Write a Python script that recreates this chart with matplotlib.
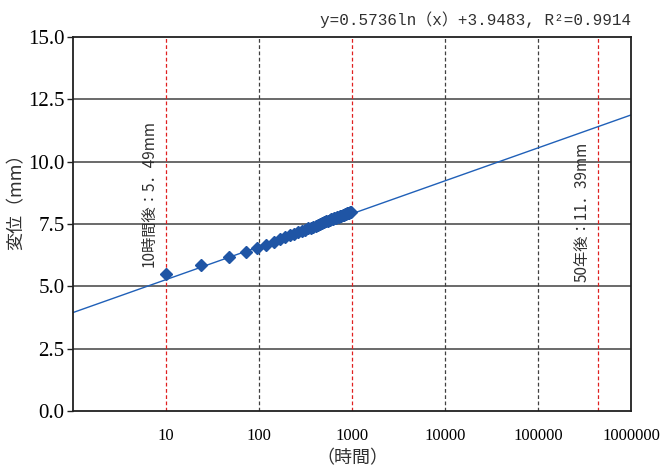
import matplotlib
matplotlib.use("Agg")
import matplotlib.pyplot as plt
import numpy as np

# Data
hours = [10, 24, 48, 72, 96, 120, 144, 168, 192, 216, 240, 264, 288, 312, 336,
         360, 384, 408, 432, 456, 480, 504, 528, 552, 576, 600, 624, 648, 672,
         696, 720, 744, 768, 792, 816, 840, 864, 888, 912, 936, 960, 984]
disp = [5.50, 5.86, 6.18, 6.37, 6.54, 6.67, 6.77, 6.88, 6.96, 7.04, 7.10, 7.16,
        7.22, 7.27, 7.32, 7.36, 7.40, 7.44, 7.48, 7.51, 7.55, 7.58, 7.61, 7.64,
        7.66, 7.69, 7.71, 7.74, 7.76, 7.78, 7.80, 7.82, 7.84, 7.86, 7.88, 7.89,
        7.91, 7.93, 7.94, 7.96, 7.97, 7.99]
fit_a, fit_b = 0.5736, 3.9483
red_lines = [10, 1000, 438000]
gray_lines = [100, 10000, 100000]
x_ticks = [10, 100, 1000, 10000, 100000, 1000000]
x_ticklabels = ["10", "100", "1000", "10000", "100000", "1000000"]
y_ticks = [0, 2.5, 5.0, 7.5, 10.0, 12.5, 15.0]

serif = ['Liberation Serif', 'Noto Sans CJK JP']
cjk = ['Noto Sans CJK JP', 'DejaVu Sans']

fig = plt.figure(figsize=(6.67, 4.75), dpi=100)
ax = fig.add_axes([0.1094, 0.1347, 0.8366, 0.7874])
ax.set_xscale('log')
ax.set_xlim(1, 1e6)
ax.set_ylim(0, 15)

for y in y_ticks[1:-1]:
    ax.axhline(y, color='#505050', lw=1.2, zorder=1)
for x in red_lines:
    ax.axvline(x, color='#e02020', lw=0.9, ls=(0, (3, 2)), zorder=1)
for x in gray_lines:
    ax.axvline(x, color='#404040', lw=0.9, ls=(0, (3, 2)), zorder=1)

xx = np.logspace(0, 6, 200)
ax.plot(xx, fit_a * np.log(xx) + fit_b, color='#2060b8', lw=1.0, zorder=2)
ax.plot(hours, disp, ls='none', marker='D', ms=6, color='#1f55a5', zorder=3)

ax.set_xticks(x_ticks)
ax.set_xticklabels(x_ticklabels, fontfamily=serif, fontsize=12)
ax.minorticks_off()
ax.tick_params(axis='x', length=0, pad=12)
ax.set_yticks(y_ticks)
ax.set_yticklabels([f"{v:.1f}" for v in y_ticks], fontfamily=serif, fontsize=15)
ax.tick_params(axis='y', length=4, width=1, pad=2, color='#202020')

for s in ax.spines.values():
    s.set_color('#202020')
    s.set_linewidth(1.3)

ax.set_ylabel("変位（mm）", fontfamily=cjk, fontsize=13, color='#303030')
ax.yaxis.set_label_coords(-0.102, 0.572)
ax.set_xlabel("（時間）", fontfamily=cjk, fontsize=13, color='#303030')
ax.xaxis.set_label_coords(0.5, -0.126)
ax.xaxis.label.set_va('center')
ax.yaxis.label.set_va('center')

ax.text(1.0, 1.025, "y=0.5736ln（x）+3.9483, R²=0.9914", transform=ax.transAxes,
        ha='right', va='bottom', fontfamily=['Liberation Mono', 'Noto Sans CJK JP'],
        fontsize=11.5, color='#303030')

ax.text(6.6, 8.74, "10時間後：5．49mm", rotation=90, ha='center', va='center',
        fontfamily=cjk, fontsize=11, color='#303030')
ax.text(297000, 7.98, "50年後：11．39mm", rotation=90, ha='center', va='center',
        fontfamily=cjk, fontsize=11, color='#303030')

fig.savefig("out.png", dpi=100)
